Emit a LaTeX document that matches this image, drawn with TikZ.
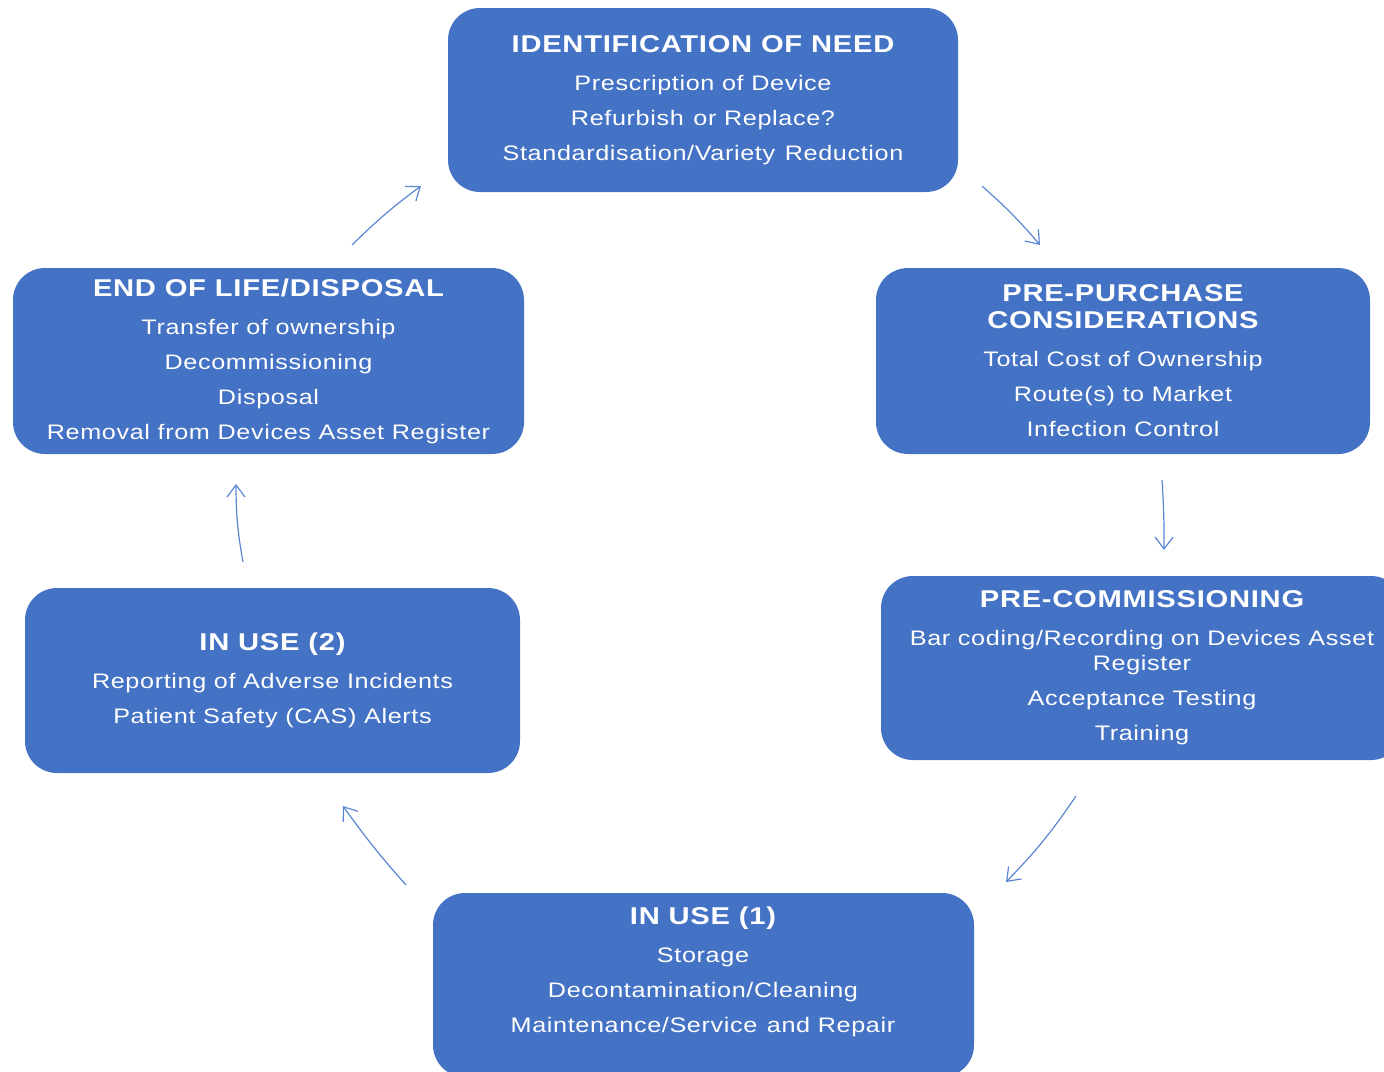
\documentclass[tikz,border=0pt]{standalone}
\usepackage{fontspec}
\setmainfont{Liberation Sans}[FakeStretch=1.2,LetterSpace=3]
\usetikzlibrary{arrows.meta}
\definecolor{boxblue}{HTML}{4472C4}
\definecolor{arrowblue}{HTML}{5B86D2}
\newcommand{\stagehead}[1]{{\fontsize{24.3}{27}\selectfont\bfseries #1}}
\begin{document}
\begin{tikzpicture}[x=1pt,y=-1pt,
  stage/.style={fill=boxblue,rounded corners=32pt,text=white,align=center,
    inner sep=0pt,font=\fontsize{21}{35}\selectfont},
  flow/.style={arrowblue,line width=1.2pt,-{Straight Barb[length=12pt,width=18pt]}}]
\useasboundingbox (0,0) rectangle (1384,1071);
\clip (0,0) rectangle (1384,1071);
% the six stages, clockwise from the top
\node[stage,minimum width=510,minimum height=184] (need) at (703,100)
  {\stagehead{IDENTIFICATION OF NEED}\\[3pt]
   Prescription of Device\\
   Refurbish \kern2pt or Replace?\\
   Standardisation/Variety \kern2pt Reduction};
\node[stage,minimum width=494,minimum height=186] (purchase) at (1123,361)
  {\stagehead{PRE-PURCHASE}\\[-8pt]
   \stagehead{CONSIDERATIONS}\\[3pt]
   Total Cost of Ownership\\
   Route(s) to Market\\
   Infection Control};
\node[stage,minimum width=522,minimum height=184] (commission) at (1142,668)
  {\stagehead{PRE-COMMISSIONING}\\[3pt]
   Bar coding/Recording on Devices Asset\\[-10pt]
   Register\\
   Acceptance Testing\\
   Training};
\node[stage,minimum width=541,minimum height=184] (inuseone) at (703.5,985) {};
\node[stage,fill=none] (inuseonetext) at (703,972)
  {\stagehead{IN USE (1)}\\[3pt]
   Storage\\
   Decontamination/Cleaning\\
   Maintenance/Service \kern2pt and Repair};
\node[stage,minimum width=495,minimum height=185] (inusetwo) at (272.5,680.5)
  {\stagehead{IN USE (2)}\\[3pt]
   Reporting of Adverse Incidents\\
   Patient Safety (CAS) Alerts};
\node[stage,minimum width=511,minimum height=186] (disposal) at (268.5,361)
  {\stagehead{END OF LIFE/DISPOSAL}\\[3pt]
   Transfer of ownership\\
   Decommissioning\\
   Disposal\\
   Removal from Devices Asset Register};
% arrow ends
\coordinate (a1) at (982,186);  \coordinate (b1) at (1040,245);
\coordinate (a2) at (1162,480); \coordinate (b2) at (1164,550);
\coordinate (a3) at (1076,796); \coordinate (b3) at (1006,882);
\coordinate (a4) at (406,885);  \coordinate (b4) at (343,806);
\coordinate (a5) at (243,562);  \coordinate (b5) at (236,484);
\coordinate (a6) at (352,245);  \coordinate (b6) at (421,186);
\draw[flow] (a1) to[bend left=4] (b1);
\draw[flow] (a2) to[bend left=2] (b2);
\draw[flow] (a3) to[bend left=5] (b3);
\draw[flow] (a4) to[bend left=3] (b4);
\draw[flow] (a5) to[bend left=5] (b5);
\draw[flow] (a6) to[bend left=4] (b6);
\end{tikzpicture}
\end{document}
